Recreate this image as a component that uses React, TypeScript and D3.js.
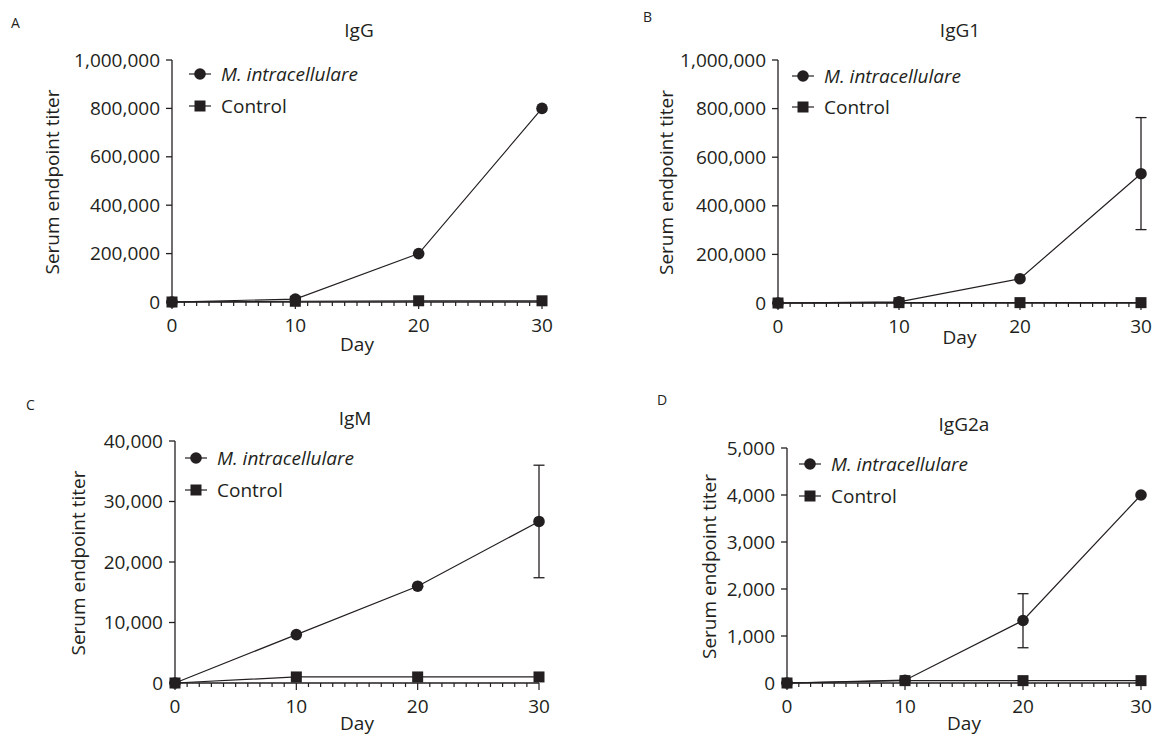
import React from "react";
import * as d3 from "d3";

const days = [0, 10, 20, 30];

const iggInfected = [0, 12000, 200000, 800000];
const iggControl = [0, 3000, 5000, 5000];

const igg1Infected = [0, 5000, 100000, 532000];
const igg1Control = [0, 1500, 1500, 1500];
const igg1ErrLow = [null, null, null, 302000];
const igg1ErrHigh = [null, null, null, 763000];

const igmInfected = [0, 8000, 16000, 26700];
const igmControl = [0, 1000, 1000, 1000];
const igmErrLow = [null, null, null, 17400];
const igmErrHigh = [null, null, null, 36000];

const igg2aInfected = [0, 60, 1330, 4000];
const igg2aControl = [0, 50, 50, 50];
const igg2aErrLow = [null, null, 750, null];
const igg2aErrHigh = [null, null, 1900, null];

const ink = "#231f20";
const font = "'Open Sans', sans-serif";

const panels = [
  {
    letter: "A", title: "IgG", yMax: 1000000, yStep: 200000,
    infected: iggInfected, control: iggControl, errLow: [], errHigh: [],
    x0: 172, x1: 542, yTop: 60, yBot: 302,
    letterX: 11, letterY: 28, titleX: 359, titleY: 37,
    yLabelX: 52, dayY: 351, legX: 200, legY: [74, 106],
  },
  {
    letter: "B", title: "IgG1", yMax: 1000000, yStep: 200000,
    infected: igg1Infected, control: igg1Control, errLow: igg1ErrLow, errHigh: igg1ErrHigh,
    x0: 778, x1: 1141, yTop: 60, yBot: 303,
    letterX: 643, letterY: 22, titleX: 960, titleY: 37,
    yLabelX: 666, dayY: 344, legX: 803, legY: [76, 107],
  },
  {
    letter: "C", title: "IgM", yMax: 40000, yStep: 10000,
    infected: igmInfected, control: igmControl, errLow: igmErrLow, errHigh: igmErrHigh,
    x0: 175, x1: 539, yTop: 441, yBot: 683,
    letterX: 26, letterY: 410, titleX: 355, titleY: 425,
    yLabelX: 78, dayY: 730, legX: 196, legY: [458, 490],
  },
  {
    letter: "D", title: "IgG2a", yMax: 5000, yStep: 1000,
    infected: igg2aInfected, control: igg2aControl, errLow: igg2aErrLow, errHigh: igg2aErrHigh,
    x0: 787, x1: 1141, yTop: 448, yBot: 683,
    letterX: 657, letterY: 405, titleX: 964, titleY: 431,
    yLabelX: 709, dayY: 730, legX: 810, legY: [464, 496],
  },
];

const fmt = d3.format(",");

function Panel({ p }) {
  const x = d3.scaleLinear().domain([0, 30]).range([p.x0, p.x1]);
  const y = d3.scaleLinear().domain([0, p.yMax]).range([p.yBot, p.yTop]);
  const yTicks = d3.range(0, p.yMax + 1, p.yStep);
  const minor = d3.range(0, 31, 1);
  const line = d3
    .line<number>()
    .x((d, i) => x(days[i]))
    .y((d) => y(d));
  const s = 11;
  return (
    <g>
      <text x={p.letterX} y={p.letterY} fontSize={14} fill={ink}>{p.letter}</text>
      <text x={p.titleX} y={p.titleY} fontSize={19} textAnchor="middle" fill={ink}>{p.title}</text>

      {/* y axis */}
      <line x1={p.x0} x2={p.x0} y1={p.yTop} y2={p.yBot} stroke={ink} strokeWidth={1.3} />
      {yTicks.map((t) => (
        <g key={t}>
          <line x1={p.x0 - 6} x2={p.x0} y1={y(t)} y2={y(t)} stroke={ink} strokeWidth={1.3} />
          <text x={p.x0 - 12} y={y(t)} dy="0.35em" fontSize={19} textAnchor="end" fill={ink}>
            {fmt(t)}
          </text>
        </g>
      ))}
      <text
        transform={`translate(${p.yLabelX},${(p.yTop + p.yBot) / 2 + 1}) rotate(-90)`}
        fontSize={19}
        textAnchor="middle"
        dy="0.35em"
        fill={ink}
      >
        Serum endpoint titer
      </text>

      {/* x axis */}
      <line x1={p.x0} x2={p.x1} y1={p.yBot} y2={p.yBot} stroke={ink} strokeWidth={1.3} />
      {minor.map((t) => (
        <line
          key={t}
          x1={x(t)}
          x2={x(t)}
          y1={p.yBot}
          y2={p.yBot + (t % 10 === 0 ? 7 : 4)}
          stroke={ink}
          strokeWidth={1.2}
        />
      ))}
      {days.map((d) => (
        <text key={d} x={x(d)} y={p.yBot + 30} fontSize={19} textAnchor="middle" fill={ink}>
          {d}
        </text>
      ))}
      <text x={(p.x0 + p.x1) / 2} y={p.dayY} fontSize={19} textAnchor="middle" fill={ink}>Day</text>

      {/* series */}
      <path d={line(p.control)} fill="none" stroke={ink} strokeWidth={1.2} />
      <path d={line(p.infected)} fill="none" stroke={ink} strokeWidth={1.2} />
      {days.map((d, i) =>
        p.errLow[i] != null ? (
          <g key={"e" + d} stroke={ink} strokeWidth={1.3}>
            <line x1={x(d)} x2={x(d)} y1={y(p.errLow[i])} y2={y(p.errHigh[i])} />
            <line x1={x(d) - 5.5} x2={x(d) + 5.5} y1={y(p.errLow[i])} y2={y(p.errLow[i])} />
            <line x1={x(d) - 5.5} x2={x(d) + 5.5} y1={y(p.errHigh[i])} y2={y(p.errHigh[i])} />
          </g>
        ) : null
      )}
      {p.infected.map((v, i) => (
        <circle key={"c" + i} cx={x(days[i])} cy={y(v)} r={5.8} fill={ink} />
      ))}
      {p.control.map((v, i) => (
        <rect key={"s" + i} x={x(days[i]) - s / 2} y={y(v) - s / 2} width={s} height={s} fill={ink} />
      ))}

      {/* legend */}
      <line x1={p.legX - 11} x2={p.legX + 11} y1={p.legY[0]} y2={p.legY[0]} stroke={ink} strokeWidth={1.2} />
      <circle cx={p.legX} cy={p.legY[0]} r={5.8} fill={ink} />
      <text x={p.legX + 21} y={p.legY[0]} dy="0.35em" fontSize={19} fontStyle="italic" fill={ink}>
        M. intracellulare
      </text>
      <line x1={p.legX - 11} x2={p.legX + 11} y1={p.legY[1]} y2={p.legY[1]} stroke={ink} strokeWidth={1.2} />
      <rect x={p.legX - s / 2} y={p.legY[1] - s / 2} width={s} height={s} fill={ink} />
      <text x={p.legX + 21} y={p.legY[1]} dy="0.35em" fontSize={19} fill={ink}>Control</text>
    </g>
  );
}

export default function App() {
  return (
    <svg
      width={1157}
      height={737}
      style={{ position: "absolute", left: 0, top: 0, background: "#fff" }}
      fontFamily={font}
    >
      {panels.map((p) => (
        <Panel key={p.letter} p={p} />
      ))}
    </svg>
  );
}
